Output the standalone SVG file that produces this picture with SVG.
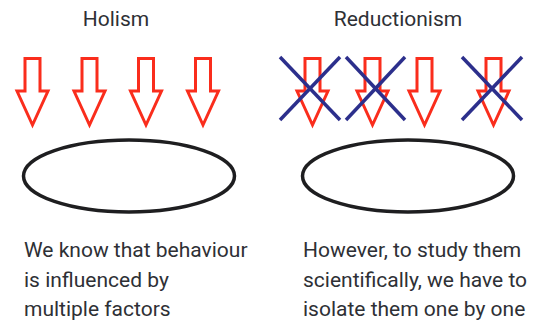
<svg xmlns="http://www.w3.org/2000/svg" xmlns:xlink="http://www.w3.org/1999/xlink" width="539" height="326" viewBox="0 0 539 326">
<style>
.t{font-family:Roboto,"Liberation Sans",sans-serif;font-size:21px;fill:#2e3035}
.arr{fill:none;stroke:#fa2d1c;stroke-width:3;stroke-linejoin:miter}
.x{stroke:#2c2f8c;stroke-width:3.5;stroke-linecap:butt}
.ell{fill:none;stroke:#1e1e20;stroke-width:3.5}
</style>
<defs>
<path id="a" class="arr" d="M -7.5 58.5 H 7.5 V 91 H 15.5 L 0 125 L -15.5 91 H -7.5 Z"/>
</defs>
<rect width="539" height="326" fill="#fff"/>
<g id="holism">
<text class="t" x="116" y="26" text-anchor="middle">Holism</text>
<g id="holism-arrows">
<use xlink:href="#a" x="32.5"/>
<use xlink:href="#a" x="89.5"/>
<use xlink:href="#a" x="146"/>
<use xlink:href="#a" x="203"/>
</g>
<ellipse id="holism-ellipse" class="ell" cx="129" cy="176" rx="105.5" ry="36"/>
<text class="t" x="24"><tspan x="24" y="257">We know that behaviour</tspan><tspan x="24" y="287">is influenced by</tspan><tspan x="24" y="316">multiple factors</tspan></text>
</g>
<g id="reductionism">
<text class="t" x="398" y="26" text-anchor="middle">Reductionism</text>
<g id="reductionism-arrows">
<use xlink:href="#a" x="312.5"/>
<use xlink:href="#a" x="372.5"/>
<use xlink:href="#a" x="424.5"/>
<use xlink:href="#a" x="493.5"/>
</g>
<g id="crosses">
<line class="x" x1="280" y1="57" x2="340" y2="120"/>
<line class="x" x1="340" y1="57" x2="280" y2="120"/>
<line class="x" x1="346" y1="57" x2="405" y2="120"/>
<line class="x" x1="405" y1="57" x2="346" y2="120"/>
<line class="x" x1="462" y1="57" x2="522" y2="120"/>
<line class="x" x1="522" y1="57" x2="462" y2="120"/>
</g>
<ellipse id="reductionism-ellipse" class="ell" cx="408" cy="176" rx="105.5" ry="36"/>
<text class="t"><tspan x="303" y="257">However, to study them</tspan><tspan x="303" y="287">scientifically, we have to</tspan><tspan x="303" y="316">isolate them one by one</tspan></text>
</g>
</svg>
